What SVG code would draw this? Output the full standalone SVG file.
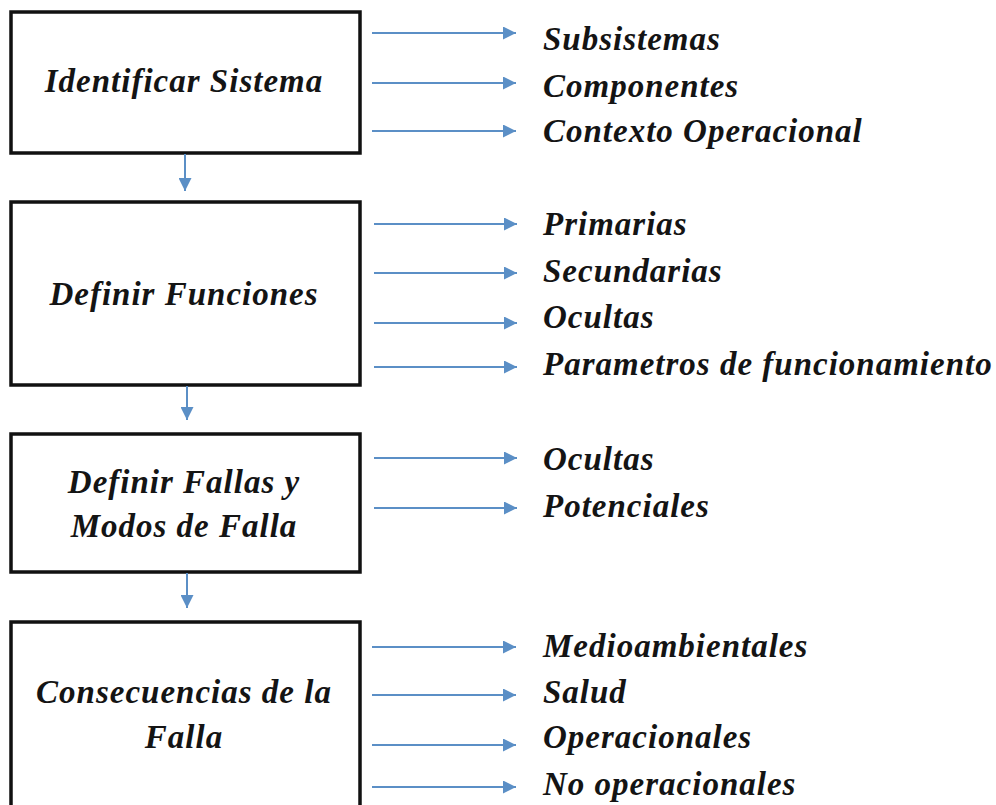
<svg xmlns="http://www.w3.org/2000/svg" width="996" height="805" viewBox="0 0 996 805">
<defs>
<marker id="ah" viewBox="0 0 10 10" refX="10" refY="5" markerWidth="17" markerHeight="13" markerUnits="userSpaceOnUse" orient="auto">
<path d="M0,0 L10,5 L0,10 z" fill="#5b8fc6"/>
</marker>
<marker id="ahd" viewBox="0 0 10 10" refX="10" refY="5" markerWidth="13" markerHeight="13" markerUnits="userSpaceOnUse" orient="auto">
<path d="M0,0 L10,5 L0,10 z" fill="#5b8fc6"/>
</marker>
<style>
.box{fill:#fff;stroke:#111;stroke-width:3.5}
.t{font-family:"Liberation Serif","Times New Roman",serif;font-style:italic;font-weight:bold;font-size:33px;letter-spacing:1px;fill:#141414}
.c{text-anchor:middle}
.a{stroke:#5b8fc6;stroke-width:2;fill:none;marker-end:url(#ah)}
.d{stroke:#5b8fc6;stroke-width:2;fill:none;marker-end:url(#ahd)}
</style>
</defs>
<rect width="996" height="805" fill="#fff"/>
<g id="n1"><rect class="box" x="11" y="12" width="349" height="141"/><text class="t c" x="184" y="92">Identificar Sistema</text></g>
<g id="n2"><rect class="box" x="11" y="202" width="349" height="183"/><text class="t c" x="184" y="305">Definir Funciones</text></g>
<g id="n3"><rect class="box" x="11" y="434" width="349" height="138"/><text class="t c" x="184" y="493">Definir Fallas y</text><text class="t c" x="184" y="537">Modos de Falla</text></g>
<g id="n4"><rect class="box" x="11" y="622" width="349" height="190"/><text class="t c" x="184" y="703">Consecuencias de la</text><text class="t c" x="184" y="748">Falla</text></g>
<g id="labels">
<text class="t" x="543" y="50">Subsistemas</text>
<text class="t" x="543" y="97">Componentes</text>
<text class="t" x="543" y="142">Contexto Operacional</text>
<text class="t" x="543" y="235">Primarias</text>
<text class="t" x="543" y="282">Secundarias</text>
<text class="t" x="543" y="328">Ocultas</text>
<text class="t" x="543" y="375">Parametros de funcionamiento</text>
<text class="t" x="543" y="470">Ocultas</text>
<text class="t" x="543" y="517">Potenciales</text>
<text class="t" x="543" y="657">Medioambientales</text>
<text class="t" x="543" y="703">Salud</text>
<text class="t" x="543" y="748">Operacionales</text>
<text class="t" x="543" y="795">No operacionales</text>
</g>
<g id="connectors">
<line class="d" x1="185" y1="154" x2="185" y2="191"/>
<line class="d" x1="187" y1="386" x2="187" y2="420"/>
<line class="d" x1="187" y1="573" x2="187" y2="608"/>
<line class="a" x1="372" y1="33" x2="516" y2="33"/>
<line class="a" x1="372" y1="83" x2="516" y2="83"/>
<line class="a" x1="372" y1="131" x2="516" y2="131"/>
<line class="a" x1="374" y1="224" x2="517" y2="224"/>
<line class="a" x1="374" y1="273" x2="517" y2="273"/>
<line class="a" x1="374" y1="323" x2="517" y2="323"/>
<line class="a" x1="374" y1="367" x2="517" y2="367"/>
<line class="a" x1="374" y1="458" x2="517" y2="458"/>
<line class="a" x1="374" y1="508" x2="517" y2="508"/>
<line class="a" x1="372" y1="647" x2="516" y2="647"/>
<line class="a" x1="372" y1="695" x2="516" y2="695"/>
<line class="a" x1="372" y1="745" x2="516" y2="745"/>
<line class="a" x1="372" y1="787" x2="516" y2="787"/>
</g>
</svg>
